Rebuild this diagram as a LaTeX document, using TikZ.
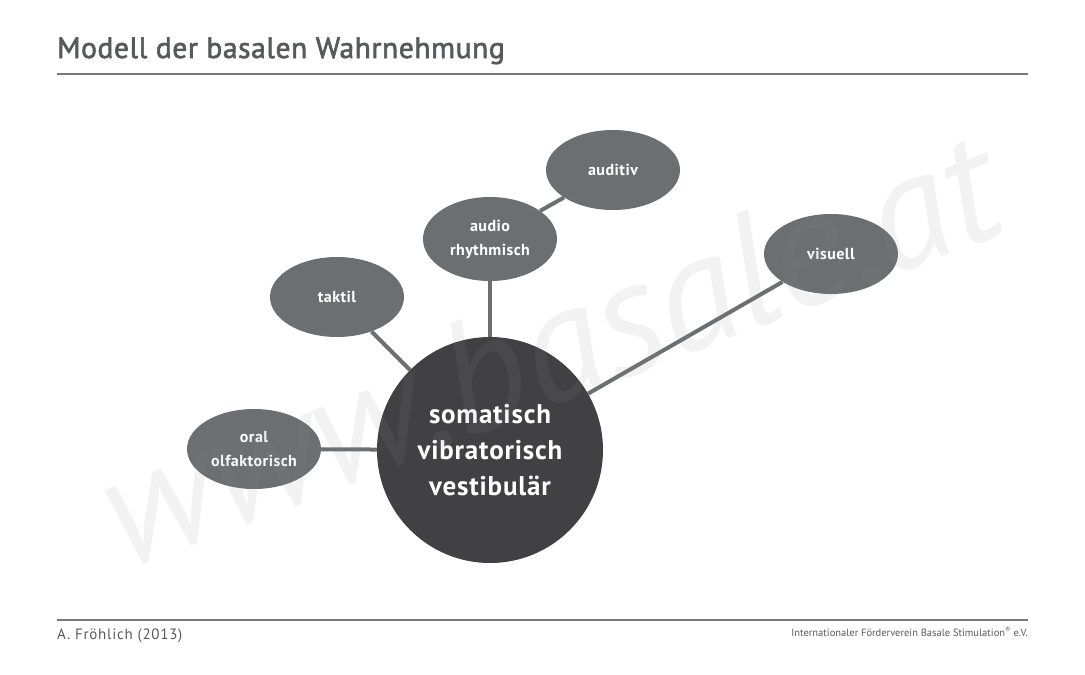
\documentclass[tikz,border=0pt]{standalone}
\usepackage{fontspec}
\setmainfont{PT Sans}
\usetikzlibrary{positioning, shapes.geometric}
\definecolor{TitleGray}{RGB}{88, 89, 91}
\definecolor{RuleGray}{RGB}{120, 120, 122}
\definecolor{NodeGray}{RGB}{109, 110, 113}
\definecolor{CoreGray}{RGB}{65, 65, 67}
\definecolor{MarkGray}{RGB}{140, 140, 140}

\begin{document}
\begin{tikzpicture}[x=1pt, y=-1pt,
    sense/.style={ellipse, fill=NodeGray, text=white, minimum width=134pt, minimum height=80pt,
      inner sep=0pt, align=center, font=\fontsize{16}{24}\selectfont\bfseries\addfontfeatures{LetterSpace=3}},
    core/.style={circle, fill=CoreGray, text=white, minimum size=226pt, inner sep=0pt,
      align=center, font=\fontsize{27}{36}\selectfont\bfseries\addfontfeatures{LetterSpace=3}},
    link/.style={NodeGray, line width=4pt}]
    \useasboundingbox (0,0) rectangle (1085,675);

    % header and footer
    \node[anchor=base west, inner sep=0pt, TitleGray, font=\fontsize{29.5}{32}\selectfont\addfontfeatures{LetterSpace=2,FakeBold=2}] (title) at (57,58) {Modell der basalen Wahrnehmung};
    \draw[RuleGray, line width=2pt] (57,74) -- (1028,74);
    \draw[RuleGray, line width=2pt] (57,620) -- (1028,620);
    \node[anchor=base west, inner sep=0pt, TitleGray, font=\fontsize{15}{16}\selectfont\addfontfeatures{LetterSpace=5}] (author) at (57,639) {A. Fröhlich (2013)};
    \node[anchor=base east, inner sep=0pt, TitleGray, font=\fontsize{10.5}{12}\selectfont] (club) at (1028,636) {Internationaler Förderverein Basale Stimulation\textsuperscript{\textregistered} e.V.};

    % nodes
    \node[core] (soma) at (490,450) {somatisch\\vibratorisch\\vestibulär};
    \node[sense] (oral) at (254,449) {oral\\olfaktorisch};
    \node[sense] (taktil) at (337,297) {taktil};
    \node[sense, minimum height=84pt] (audio) at (490,239) {audio\\rhythmisch};
    \node[sense] (auditiv) at (613,170) {auditiv};
    \node[sense] (visuell) at (831,254) {visuell};

    % connectors
    \draw[link] (oral) -- (soma);
    \draw[link] (taktil) -- (soma);
    \draw[link] (audio) -- (soma);
    \draw[link] (auditiv) -- (audio);
    \draw[link] (visuell) -- (soma);

    % watermark
    \node[text=MarkGray, text opacity=0.11, rotate=21, font=\fontsize{162}{162}\selectfont\itshape] (mark) at (548,348) {www.basale.at};
\end{tikzpicture}
\end{document}
